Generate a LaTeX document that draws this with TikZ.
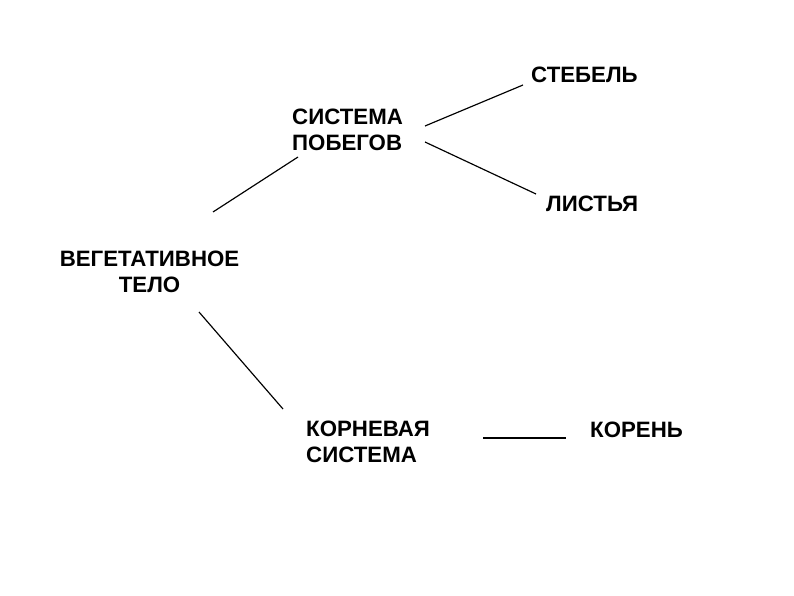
\documentclass[tikz,border=0pt]{standalone}
\usepackage{fontspec}
\setmainfont{Liberation Sans}
\tikzset{
  lbl/.style={inner sep=0pt, font=\fontsize{19}{21.8}\selectfont\bfseries},
  twig/.style={line width=1pt}
}
\begin{document}
\begin{tikzpicture}[x=0.03cm,y=-0.03cm]
\useasboundingbox[fill=white] (0,0) rectangle (794,595);
% labels
\node[lbl,anchor=north,align=center] (veg) at (149.5,251) {ВЕГЕТАТИВНОЕ\\ТЕЛО};
\node[lbl,anchor=north west,align=left] (shoots) at (292,109) {СИСТЕМА\\ПОБЕГОВ};
\node[lbl,anchor=north west] (stem) at (531,67) {СТЕБЕЛЬ};
\node[lbl,anchor=north west] (leaves) at (546,196) {ЛИСТЬЯ};
\node[lbl,anchor=north west,align=left] (roots) at (306,421) {КОРНЕВАЯ\\СИСТЕМА};
\node[lbl,anchor=north west] (root) at (590,422) {КОРЕНЬ};
% line ends
\coordinate (veg-a) at (213,212);
\coordinate (shoots-a) at (298,157);
\coordinate (shoots-b) at (425,126);
\coordinate (stem-a) at (523,85);
\coordinate (shoots-c) at (425,142);
\coordinate (leaves-a) at (536,194);
\coordinate (veg-b) at (199,312);
\coordinate (roots-a) at (283,409);
\coordinate (roots-b) at (483,438);
\coordinate (root-a) at (566,438);
% lines
\draw[twig] (veg-a) -- (shoots-a);
\draw[twig] (shoots-b) -- (stem-a);
\draw[twig] (shoots-c) -- (leaves-a);
\draw[twig] (veg-b) -- (roots-a);
\draw[twig] (roots-b) -- (root-a);
\end{tikzpicture}
\end{document}
